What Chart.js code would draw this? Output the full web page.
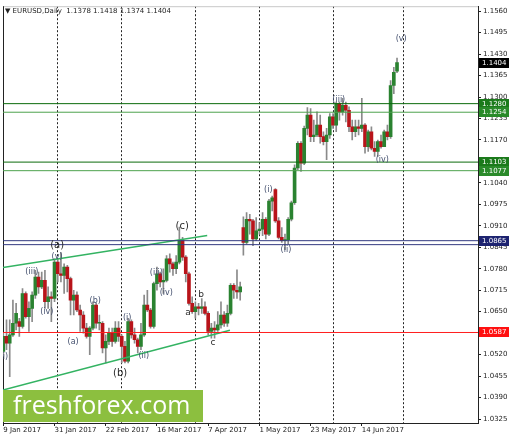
<!DOCTYPE html>
<html lang="en">
<head>
<meta charset="UTF-8">
<title>EURUSD Daily</title>
<script src="https://cdn.jsdelivr.net/npm/chart.js"></script>
<style>
  html, body { margin: 0; padding: 0; background: #fff; }
  #chart { display: block; }
</style>
</head>
<body>
<canvas id="chart" width="510" height="434"></canvas>
<script>
// daily candles, 9 Jan 2017 .. 29 Jun 2017 (bar index 0..123)
const openP = [
  1.0530, 1.0575, 1.0555, 1.0580, 1.0615, 1.0620, 1.0605, 1.0705, 1.0635, 1.0660,
  1.0700, 1.0755, 1.0725, 1.0745, 1.0680, 1.0695, 1.0690, 1.0800, 1.0765, 1.0760,
  1.0785, 1.0750, 1.0685, 1.0700, 1.0655, 1.0640, 1.0600, 1.0575, 1.0600, 1.0670,
  1.0615, 1.0615, 1.0540, 1.0560, 1.0585, 1.0560, 1.0600, 1.0575, 1.0545, 1.0500,
  1.0620, 1.0580, 1.0565, 1.0545, 1.0580, 1.0670, 1.0655, 1.0605, 1.0735, 1.0765,
  1.0740, 1.0745, 1.0810, 1.0795, 1.0780, 1.0800, 1.0865, 1.0815, 1.0765, 1.0675,
  1.0650, 1.0665, 1.0660, 1.0665, 1.0645, 1.0590, 1.0600, 1.0595, 1.0610, 1.0640,
  1.0615, 1.0645, 1.0730, 1.0715, 1.0710, 1.0905, 1.0860, 1.0930, 1.0925, 1.0870,
  1.0895, 1.0900, 1.0930, 1.0885, 1.0985, 1.1020, 1.0925, 1.0875, 1.0865, 1.0868,
  1.0930, 1.0980, 1.1085, 1.1160, 1.1100, 1.1205, 1.1245, 1.1180, 1.1185, 1.1215,
  1.1180, 1.1165, 1.1185, 1.1240, 1.1215, 1.1280, 1.1255, 1.1275, 1.1260, 1.1210,
  1.1195, 1.1210, 1.1205, 1.1215, 1.1150, 1.1195, 1.1145, 1.1135, 1.1165, 1.1150,
  1.1195, 1.1180, 1.1335, 1.1378
];
const highP = [
  1.0585, 1.0625, 1.0625, 1.0685, 1.0675, 1.0630, 1.0720, 1.0710, 1.0680, 1.0710,
  1.0775, 1.0770, 1.0770, 1.0775, 1.0725, 1.0710, 1.0810, 1.0810, 1.0829, 1.0795,
  1.0790, 1.0755, 1.0715, 1.0710, 1.0670, 1.0650, 1.0615, 1.0605, 1.0680, 1.0675,
  1.0640, 1.0620, 1.0580, 1.0600, 1.0600, 1.0620, 1.0620, 1.0580, 1.0560, 1.0630,
  1.0625, 1.0600, 1.0570, 1.0615, 1.0700, 1.0715, 1.0660, 1.0740, 1.0785, 1.0770,
  1.0780, 1.0820, 1.0825, 1.0800, 1.0820, 1.0906, 1.0875, 1.0820, 1.0770, 1.0695,
  1.0680, 1.0675, 1.0690, 1.0680, 1.0650, 1.0615, 1.0620, 1.0650, 1.0680, 1.0650,
  1.0670, 1.0735, 1.0735, 1.0777, 1.0740, 1.0937, 1.0950, 1.0945, 1.0930, 1.0935,
  1.0920, 1.0950, 1.0935, 1.0990, 1.1000, 1.1023, 1.0935, 1.0905, 1.0885, 1.0935,
  1.0985, 1.1095, 1.1165, 1.1165, 1.1212, 1.1268, 1.1265, 1.1230, 1.1255, 1.1245,
  1.1195, 1.1205, 1.1250, 1.1250, 1.1285, 1.1285, 1.1296, 1.1285, 1.1270, 1.1230,
  1.1230, 1.1230, 1.1296, 1.1220, 1.1200, 1.1210, 1.1165, 1.1170, 1.1185, 1.1200,
  1.1215, 1.1350, 1.1390, 1.1418
];
const lowP = [
  1.0515, 1.0535, 1.0453, 1.0575, 1.0595, 1.0575, 1.0600, 1.0630, 1.0590, 1.0620,
  1.0690, 1.0705, 1.0720, 1.0660, 1.0660, 1.0620, 1.0680, 1.0740, 1.0740, 1.0705,
  1.0710, 1.0640, 1.0640, 1.0650, 1.0590, 1.0585, 1.0570, 1.0520, 1.0595, 1.0600,
  1.0595, 1.0525, 1.0495, 1.0550, 1.0545, 1.0555, 1.0560, 1.0495, 1.0495, 1.0495,
  1.0570, 1.0555, 1.0525, 1.0535, 1.0575, 1.0650, 1.0600, 1.0600, 1.0715, 1.0725,
  1.0705, 1.0740, 1.0770, 1.0760, 1.0765, 1.0795, 1.0805, 1.0740, 1.0670, 1.0645,
  1.0630, 1.0640, 1.0645, 1.0640, 1.0580, 1.0570, 1.0570, 1.0590, 1.0600, 1.0605,
  1.0605, 1.0640, 1.0690, 1.0690, 1.0685, 1.0821, 1.0855, 1.0885, 1.0850, 1.0865,
  1.0885, 1.0880, 1.0870, 1.0880, 1.0955, 1.0920, 1.0870, 1.0860, 1.0838, 1.0855,
  1.0925, 1.0975, 1.1080, 1.1075, 1.1095, 1.1185, 1.1165, 1.1165, 1.1180, 1.1160,
  1.1155, 1.1110, 1.1175, 1.1205, 1.1195, 1.1230, 1.1245, 1.1225, 1.1195, 1.1170,
  1.1180, 1.1185, 1.1195, 1.1130, 1.1135, 1.1140, 1.1120, 1.1120, 1.1145, 1.1150,
  1.1170, 1.1175, 1.1310, 1.1374
];
const closeP = [
  1.0575, 1.0555, 1.0580, 1.0615, 1.0645, 1.0605, 1.0705, 1.0635, 1.0660, 1.0700,
  1.0755, 1.0725, 1.0745, 1.0680, 1.0695, 1.0690, 1.0800, 1.0765, 1.0760, 1.0785,
  1.0750, 1.0685, 1.0700, 1.0655, 1.0640, 1.0600, 1.0575, 1.0600, 1.0670, 1.0615,
  1.0618, 1.0540, 1.0560, 1.0585, 1.0560, 1.0600, 1.0575, 1.0545, 1.0500, 1.0620,
  1.0580, 1.0565, 1.0545, 1.0580, 1.0670, 1.0655, 1.0605, 1.0735, 1.0765, 1.0740,
  1.0745, 1.0810, 1.0795, 1.0780, 1.0800, 1.0865, 1.0815, 1.0765, 1.0675, 1.0650,
  1.0665, 1.0660, 1.0665, 1.0645, 1.0590, 1.0600, 1.0595, 1.0610, 1.0640, 1.0615,
  1.0645, 1.0730, 1.0715, 1.0710, 1.0725, 1.0860, 1.0930, 1.0925, 1.0870, 1.0895,
  1.0900, 1.0930, 1.0885, 1.0985, 1.0995, 1.0925, 1.0875, 1.0865, 1.0868, 1.0930,
  1.0980, 1.1085, 1.1160, 1.1100, 1.1205, 1.1245, 1.1180, 1.1185, 1.1215, 1.1180,
  1.1165, 1.1185, 1.1240, 1.1215, 1.1280, 1.1255, 1.1275, 1.1260, 1.1210, 1.1195,
  1.1210, 1.1205, 1.1215, 1.1150, 1.1195, 1.1145, 1.1135, 1.1165, 1.1150, 1.1195,
  1.1180, 1.1335, 1.1375, 1.1404
];

// time axis
const xLabels = ['9 Jan 2017', '31 Jan 2017', '22 Feb 2017', '16 Mar 2017', '7 Apr 2017', '1 May 2017', '23 May 2017', '14 Jun 2017'];
const xLabelBars = [0, 16, 32, 48, 64, 80, 96, 112];
const monthStartBars = [17, 37, 60, 80, 103, 125];   // period separators

// price axis
const yTicks = [1.0325, 1.0390, 1.0455, 1.0520, 1.0585, 1.0650, 1.0715, 1.0780, 1.0845, 1.0910,
                1.0975, 1.1040, 1.1105, 1.1170, 1.1235, 1.1300, 1.1365, 1.1430, 1.1495, 1.1560];

// horizontal levels and price tags
const levelPrices = [1.1280, 1.1254, 1.1103, 1.1077, 1.0865, 1.0853, 1.0587];
const levelKinds  = ['res', 'res2', 'res', 'res2', 'pivot', 'pivot', 'sup'];
const tagPrices = [1.1404, 1.1280, 1.1254, 1.1103, 1.1077, 1.0865, 1.0587];
const tagKinds  = ['last', 'res', 'res2', 'res', 'res2', 'pivot', 'sup'];

// channel lines: [bar, price]
const channelUpper = [[-0.1, 1.0784], [63.7, 1.0881]];
const channelLower = [[-0.1, 1.0413], [70.8, 1.0594]];

// Elliott wave marks
const waveText   = ['(i)', '(iii)', '(a)', '(v)', '(iv)', '(a)', '(b)', '(b)', '(i)', '(ii)', '(iii)', '(iv)', '(c)', 'a', 'b', 'c', '(i)', '(ii)', '(iii)', '(iv)', '(v)'];
const waveBar    = [0.2, 8.9, 16.8, 16.8, 13.6, 21.8, 28.7, 36.5, 38.7, 43.9, 47.8, 50.9, 55.9, 57.7, 61.8, 65.5, 82.8, 88.3, 104.8, 118.4, 124.3];
const wavePrice  = [1.0512, 1.0771, 1.0851, 1.0815, 1.0650, 1.0559, 1.0683, 1.0462, 1.0632, 1.0517, 1.0768, 1.0707, 1.0907, 1.0647, 1.0701, 1.0556, 1.1018, 1.0837, 1.1290, 1.1109, 1.1477];
const waveDegree = [1, 1, 2, 1, 1, 1, 1, 2, 1, 1, 1, 1, 2, 0, 0, 0, 1, 1, 1, 1, 1];

const xMin = -0.1, xMax = 148.3;
const yMin = 1.03129, yMax = 1.15751;

const UP = '#2a8230', DOWN = '#b8141a', WICK = '#8a8a8a';
const lineStyle = {
  res:   { color: '#0b6b0b', tag: '#1b7a1b' },
  res2:  { color: '#4ea24e', tag: '#2a8a2a' },
  pivot: { color: '#333a80', tag: '#1d2370' },
  sup:   { color: '#ff1f1f', tag: '#ff1010' },
  last:  { color: '#000', tag: '#000' }
};
const FONT = 'DejaVu Sans';

const bars = openP.map((o, i) => i);

const datasets = [];
levelPrices.forEach((p, k) => {
  datasets.push({
    type: 'line',
    data: [{ x: xMin, y: p }, { x: xMax, y: p }],
    borderColor: lineStyle[levelKinds[k]].color,
    borderWidth: 1, pointRadius: 0, order: 0
  });
});
[channelUpper, channelLower].forEach(seg => {
  datasets.push({
    type: 'line',
    data: seg.map(pt => ({ x: pt[0], y: pt[1] })),
    borderColor: '#33b362', borderWidth: 1.5, pointRadius: 0, order: 0
  });
});
datasets.push({
  type: 'bar',
  data: bars.map(i => ({ x: i, y: [lowP[i], highP[i]] })),
  backgroundColor: WICK, barThickness: 1, grouped: false, clip: 0, order: 3
});
datasets.push({
  type: 'bar',
  data: bars.map(i => ({ x: i, y: [openP[i], closeP[i]] })),
  backgroundColor: ctx => closeP[ctx.dataIndex] >= openP[ctx.dataIndex] ? UP : DOWN,
  barThickness: 3, minBarLength: 1, grouped: false, clip: 0, order: 2
});

const decorations = {
  id: 'decorations',
  beforeDatasetsDraw(chart) {
    const { ctx, chartArea: a } = chart;
    ctx.save();
    ctx.strokeStyle = '#c8c8c8';
    ctx.lineWidth = 1;
    ctx.beginPath();
    ctx.moveTo(a.left, a.top + 0.5);
    ctx.lineTo(a.right, a.top + 0.5);
    ctx.stroke();
    ctx.strokeStyle = '#222';
    ctx.beginPath();
    ctx.moveTo(a.left + 0.5, a.top);
    ctx.lineTo(a.left + 0.5, a.bottom);
    ctx.stroke();
    ctx.restore();
  },
  afterDatasetsDraw(chart) {
    const { ctx, chartArea: a, scales } = chart;
    ctx.save();
    ctx.beginPath();
    ctx.rect(a.left, a.top, a.right - a.left, a.bottom - a.top);
    ctx.clip();
    ctx.textAlign = 'center';
    ctx.textBaseline = 'middle';
    waveText.forEach((t, k) => {
      const deg = waveDegree[k];
      ctx.font = deg === 2 ? '10px ' + FONT : deg === 0 ? '9px ' + FONT : '8px ' + FONT;
      ctx.fillStyle = deg === 1 ? '#44506e' : '#2b2b2b';
      ctx.fillText(t, scales.x.getPixelForValue(waveBar[k]), scales.y.getPixelForValue(wavePrice[k]));
    });
    ctx.restore();
  },
  afterDraw(chart) {
    const { ctx, chartArea: a, scales } = chart;
    ctx.save();
    // price tags on the axis
    ctx.font = '7px ' + FONT;
    ctx.textBaseline = 'middle';
    ctx.textAlign = 'left';
    tagPrices.forEach((p, k) => {
      const y = Math.round(scales.y.getPixelForValue(p));
      ctx.fillStyle = lineStyle[tagKinds[k]].tag;
      ctx.fillRect(a.right + 1, y - 5, 30, 10);
      ctx.fillStyle = '#fff';
      ctx.fillText(p.toFixed(4), a.right + 4, y + 0.5);
    });
    // header
    ctx.fillStyle = '#222';
    ctx.fillText('\u25BC EURUSD,Daily  ' + [openP, highP, lowP, closeP].map(s => s[s.length - 1].toFixed(4)).join(' '), a.left + 2, a.top + 5);
    // watermark
    ctx.fillStyle = '#8cbf3f';
    ctx.fillRect(a.left, a.bottom - 33, 200, 32);
    ctx.fillStyle = '#fff';
    ctx.font = '25px "Open Sans"';
    ctx.textBaseline = 'alphabetic';
    ctx.fillText('freshforex.com', a.left + 10, a.bottom - 9);
    ctx.restore();
  }
};

const tickFont = { family: FONT, size: 7 };

new Chart(document.getElementById('chart'), {
  type: 'bar',
  data: { datasets: datasets },
  plugins: [decorations],
  options: {
    responsive: false,
    animation: false,
    devicePixelRatio: 1,
    layout: { padding: { left: 3, top: 5, right: 0, bottom: 0 } },
    plugins: { legend: { display: false }, tooltip: { enabled: false } },
    scales: {
      x: {
        type: 'linear',
        min: xMin, max: xMax,
        offset: false,
        afterBuildTicks: s => {
          s.ticks = [...new Set([...xLabelBars, ...monthStartBars])].sort((p, q) => p - q).map(v => ({ value: v }));
        },
        afterFit: s => { s.height = 11; },
        grid: {
          offset: false,
          color: c => monthStartBars.includes(c.tick && c.tick.value) ? '#222' : 'rgba(0,0,0,0)',
          tickColor: c => xLabelBars.includes(c.tick && c.tick.value) ? '#222' : 'rgba(0,0,0,0)',
          tickLength: 3
        },
        border: { display: true, color: '#222', dash: [2, 2] },
        ticks: {
          autoSkip: false, maxRotation: 0, align: 'start', padding: 0,
          font: tickFont, color: '#222',
          callback: v => { const k = xLabelBars.indexOf(v); return k >= 0 ? xLabels[k] : ''; }
        }
      },
      y: {
        position: 'right',
        min: yMin, max: yMax,
        beginAtZero: false,
        afterBuildTicks: s => { s.ticks = yTicks.map(v => ({ value: v })); },
        afterFit: s => { s.width = 32; },
        grid: { drawOnChartArea: false, tickLength: 3, tickColor: '#222' },
        border: { color: '#222' },
        ticks: { padding: 2, font: tickFont, color: '#222', callback: v => v.toFixed(4) }
      }
    }
  }
});
</script>
</body>
</html>
